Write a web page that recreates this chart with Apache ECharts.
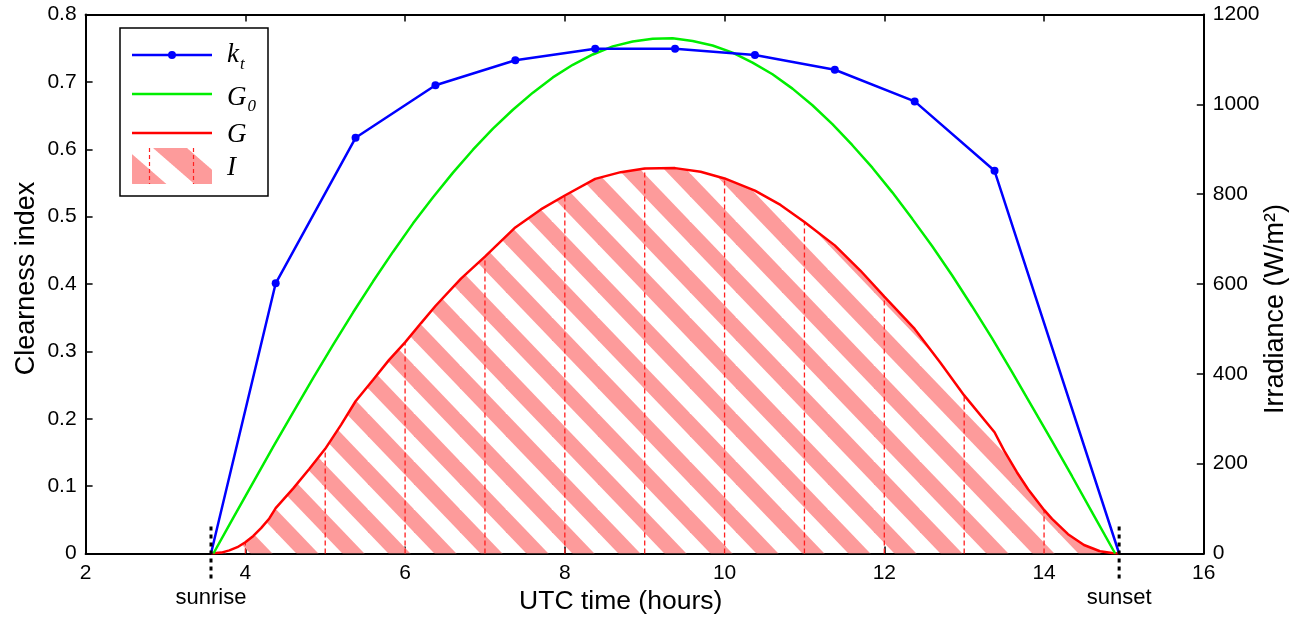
<!DOCTYPE html>
<html>
<head>
<meta charset="utf-8">
<script src="https://cdn.jsdelivr.net/npm/echarts@6/dist/echarts.min.js"></script>
<style>
html,body{margin:0;padding:0;background:#fff;}
#chart{width:1296px;height:617px;}
</style>
</head>
<body>
<div id="chart"></div>
<script>
// ---------- data ----------
const ktHours  = [3.57, 4.38, 5.38, 6.38, 7.38, 8.38, 9.38, 10.38, 11.38, 12.38, 13.38, 14.94];
const ktValues = [0, 0.401, 0.617, 0.695, 0.732, 0.749, 0.749, 0.740, 0.718, 0.671, 0.568, 0];

const g0Hours  = [3.6, 3.85, 4.1, 4.35, 4.6, 4.85, 5.1, 5.35, 5.6, 5.85, 6.1, 6.35, 6.6, 6.85, 7.1, 7.35,
                  7.6, 7.85, 8.1, 8.35, 8.6, 8.85, 9.1, 9.35, 9.6, 9.85, 10.1, 10.35, 10.6, 10.85, 11.1,
                  11.35, 11.6, 11.85, 12.1, 12.35, 12.6, 12.85, 13.1, 13.35, 13.6, 13.85, 14.1, 14.35,
                  14.6, 14.89];
const g0Values = [0, 80, 159, 238, 315, 391, 465, 537, 606, 672, 735, 793, 848, 899, 946, 988,
                  1026, 1060, 1088, 1111, 1129, 1140, 1146, 1147, 1141, 1131, 1115, 1093, 1067, 1035, 998,
                  956, 909, 859, 804, 745, 684, 619, 550, 479, 404, 327, 250, 172,
                  92, 0];

const gHours  = [3.57, 3.7, 3.8, 3.9, 4.0, 4.1, 4.2, 4.3, 4.38, 4.6, 4.8, 5.0, 5.2, 5.38, 5.6, 5.8, 6.0, 6.2, 6.38,
                 6.7, 7.0, 7.38, 7.7, 8.0, 8.38, 8.7, 9.0, 9.38, 9.7, 10.0, 10.38, 10.7, 11.0, 11.38, 11.7, 12.0,
                 12.38, 12.7, 13.0, 13.38, 13.5, 13.66, 13.8, 14.0, 14.1, 14.3, 14.5, 14.7, 14.85, 14.94];
const gValues = [0, 2, 7, 14, 25, 39, 57, 78, 101, 145, 188, 233, 287, 339, 387, 431, 470, 513, 551,
                 612, 661, 726, 766, 797, 834, 849, 857, 858, 850, 835, 808, 776, 738, 686, 630, 572,
                 500, 425, 352, 270, 229, 181, 143, 97, 77, 43, 19, 5, 1, 0];

const hourMarks  = [4, 5, 6, 7, 8, 9, 10, 11, 12, 13, 14];
const sunEvents  = [3.57, 14.94];
const sunLabels  = ['sunrise', 'sunset'];

const xTickLabels      = ['2', '4', '6', '8', '10', '12', '14', '16'];
const yLeftTickLabels  = ['0', '0.1', '0.2', '0.3', '0.4', '0.5', '0.6', '0.7', '0.8'];
const yRightTickLabels = ['0', '200', '400', '600', '800', '1000', '1200'];

const legendLabels = { kt: '{ik|k}{sk|t}', G0: '{ig|G}{sg|0}', G: '{ir|G}', I: '{ir|I}' };

// ---------- helpers ----------
const FONT = '"Liberation Sans", Arial, Helvetica, sans-serif';
const SERIF = '"Liberation Serif", "DejaVu Serif", serif';
const PINK = '#fd9b9b';

function makeHatch() {
  const W = 46, H = 48, c0 = 7, pinkW = 22;
  const cv = document.createElement('canvas');
  cv.width = W; cv.height = H;
  const ctx = cv.getContext('2d');
  ctx.strokeStyle = PINK;
  ctx.lineWidth = pinkW * H / Math.sqrt(W * W + H * H);
  for (let k = -2; k <= 2; k++) {
    const a = c0 + k * W;
    ctx.beginPath();
    ctx.moveTo(a - 0.5 * W, -0.5 * H);
    ctx.lineTo(a + 1.5 * W, 1.5 * H);
    ctx.stroke();
  }
  return cv;
}

// small swatch for the legend: stripes + two dashed red lines
function makeLegendSwatch() {
  const W = 80, H = 36;
  const cv = document.createElement('canvas');
  cv.width = W; cv.height = H;
  const ctx = cv.getContext('2d');
  const img = ctx.createImageData(W, H);
  for (let y = 0; y < H; y++) {
    for (let x = 0; x < W; x++) {
      let hits = 0;
      for (let sy = 0; sy < 4; sy++) for (let sx = 0; sx < 4; sx++) {
        const px = x + (sx + 0.5) / 4, py = y + (sy + 0.5) / 4;
        let u = (px - py * 1.15 - 21) % 62; if (u < 0) u += 62;
        if (u < 34) hits++;
      }
      const a = hits / 16, o = (y * W + x) * 4;
      img.data[o] = 253; img.data[o + 1] = 155; img.data[o + 2] = 155; img.data[o + 3] = Math.round(a * 255);
    }
  }
  ctx.putImageData(img, 0, 0);
  ctx.strokeStyle = '#ff2020'; ctx.lineWidth = 1.2; ctx.setLineDash([4, 3]);
  [17.5, 61.5].forEach(x => { ctx.beginPath(); ctx.moveTo(x, 0); ctx.lineTo(x, H); ctx.stroke(); });
  return cv;
}
const hatch = { image: makeHatch(), repeat: 'repeat' };
const swatch = { image: makeLegendSwatch(), repeat: 'repeat' };

const pair = (xs, ys) => xs.map((x, i) => [x, ys[i]]);
const gData = pair(gHours, gValues);
const g0Data = pair(g0Hours, g0Values);
const ktData = ktHours.map((h, i) => ({ value: [h, ktValues[i]], symbolSize: ktValues[i] === 0 ? 0 : 8 }));
const hourData = hourMarks.map(h => [h, gValues[gHours.indexOf(h)]]);

const axisLineStyle = { show: true, onZero: false, lineStyle: { color: '#000', width: 2 } };
const tickStyle = { show: true, inside: true, length: 7, lineStyle: { color: '#000', width: 1.5 } };
const labelStyle = { color: '#000', fontSize: 21, fontFamily: FONT };
const nameStyle = { color: '#000', fontSize: 27, fontFamily: FONT };

const tok = (size, lh, top, left) => ({ fontFamily: SERIF, fontStyle: 'italic', fontSize: size, lineHeight: lh,
                                        verticalAlign: 'top', padding: [top, 0, 0, left], color: '#000' });

const chart = echarts.init(document.getElementById('chart'), null, { renderer: 'canvas' });
chart.setOption({
  animation: false,
  backgroundColor: '#fff',
  grid: { left: 85.6, right: 92.2, top: 14.5, bottom: 63.5, outerBoundsMode: 'none', containLabel: false },
  legend: {
    orient: 'vertical', left: 120, top: 28,
    padding: [9, 12, 12, 12], itemGap: 0, itemWidth: 80, itemHeight: 36,
    borderColor: '#000', borderWidth: 1.5, backgroundColor: '#fff',
    selectedMode: false,
    itemStyle: { borderWidth: 0 },
    data: [
      { name: 'kt', icon: 'path://M0,2.25H80V4.75H0Z M44,3.5A4,4,0,1,1,36,3.5A4,4,0,1,1,44,3.5Z' },
      { name: 'G0', icon: 'path://M0,0H80V2.5H0Z' },
      { name: 'G',  icon: 'path://M0,0H80V2.5H0Z' },
      { name: 'I',  icon: 'rect', itemStyle: { color: swatch, borderWidth: 0 } }
    ],
    formatter: n => legendLabels[n],
    textStyle: {
      color: '#000',
      rich: {
        ik: tok(27, 36, 4.5, 10),
        sk: tok(17, 36, 19, 1),
        ig: tok(27, 42, 11.5, 10),
        sg: tok(17, 42, 25, 1),
        ir: tok(27, 36, 6, 10)
      }
    }
  },
  xAxis: [
    {
      type: 'value', min: 2, max: 16, interval: 2, position: 'bottom',
      name: 'UTC time (hours)', nameLocation: 'middle', nameGap: 35, nameMoveOverlap: false,
      nameTextStyle: Object.assign({}, nameStyle, { fontSize: 26.5, padding: [0, 48, 0, 0] }),
      axisLine: axisLineStyle, axisTick: tickStyle,
      axisLabel: Object.assign({ margin: 9, formatter: (v, i) => xTickLabels[i] }, labelStyle),
      splitLine: { show: false }
    },
    {
      type: 'value', min: 2, max: 16, interval: 2, position: 'top',
      axisLine: axisLineStyle, axisTick: tickStyle, axisLabel: { show: false }, splitLine: { show: false }
    }
  ],
  yAxis: [
    {
      type: 'value', min: 0, max: 0.8, interval: 0.1, position: 'left',
      name: 'Clearness index', nameLocation: 'middle', nameGap: 46, nameMoveOverlap: false,
      nameTextStyle: Object.assign({}, nameStyle, { padding: [0, 0, 0, 11] }),
      axisLine: axisLineStyle, axisTick: tickStyle,
      axisLabel: Object.assign({ margin: 9, formatter: (v, i) => yLeftTickLabels[i] }, labelStyle),
      splitLine: { show: false }
    },
    {
      type: 'value', min: 0, max: 1200, interval: 200, position: 'right',
      name: 'Irradiance (W/m²)', nameLocation: 'middle', nameGap: 58, nameMoveOverlap: false,
      nameTextStyle: Object.assign({}, nameStyle, { padding: [0, 50, 0, 0] }),
      axisLine: axisLineStyle, axisTick: tickStyle,
      axisLabel: Object.assign({ margin: 9, formatter: (v, i) => yRightTickLabels[i] }, labelStyle),
      splitLine: { show: false }
    }
  ],
  series: [
    {
      name: 'I', type: 'line', xAxisIndex: 0, yAxisIndex: 1, data: gData,
      symbol: 'none', lineStyle: { width: 0 }, itemStyle: { color: PINK },
      areaStyle: { color: hatch, opacity: 1, origin: 'start' }, silent: true, z: 1
    },
    {
      name: 'hours', type: 'custom', xAxisIndex: 0, yAxisIndex: 1, data: hourData, silent: true, z: 2,
      renderItem: (params, api) => {
        const x = api.value(0), y = api.value(1);
        const p0 = api.coord([x, 0]), p1 = api.coord([x, y]);
        return { type: 'line', shape: { x1: p0[0], y1: p0[1], x2: p1[0], y2: p1[1] },
                 style: { stroke: '#ff2020', lineWidth: 1.3, lineDash: [5, 3] } };
      }
    },
    {
      name: 'G', type: 'line', xAxisIndex: 0, yAxisIndex: 1, data: gData,
      symbol: 'none', lineStyle: { color: '#ff0000', width: 2.5 }, itemStyle: { color: '#ff0000' }, z: 3
    },
    {
      name: 'G0', type: 'line', xAxisIndex: 0, yAxisIndex: 1, data: g0Data,
      symbol: 'none', lineStyle: { color: '#00ee00', width: 2.5 }, itemStyle: { color: '#00ee00' }, z: 4
    },
    {
      name: 'kt', type: 'line', xAxisIndex: 0, yAxisIndex: 0, data: ktData,
      symbol: 'circle', showAllSymbol: true,
      lineStyle: { color: '#0000ff', width: 2.5 }, itemStyle: { color: '#0000ff' }, z: 5
    },
    {
      name: 'sun', type: 'custom', xAxisIndex: 0, yAxisIndex: 0, clip: false, silent: true, z: 10,
      data: sunEvents.map(t => [t, 0]),
      renderItem: (params, api) => {
        const p = api.coord([api.value(0), 0]);
        return { type: 'group', children: [
          { type: 'line', shape: { x1: p[0], y1: p[1] - 27, x2: p[0], y2: p[1] + 29 },
            style: { stroke: '#000', lineWidth: 3, lineDash: [4, 4] } },
          { type: 'text', style: { text: sunLabels[params.dataIndex], x: p[0], y: p[1] + 44,
            align: 'center', verticalAlign: 'middle', font: '22px ' + FONT, fill: '#000' } }
        ] };
      }
    }
  ]
});
</script>
</body>
</html>
